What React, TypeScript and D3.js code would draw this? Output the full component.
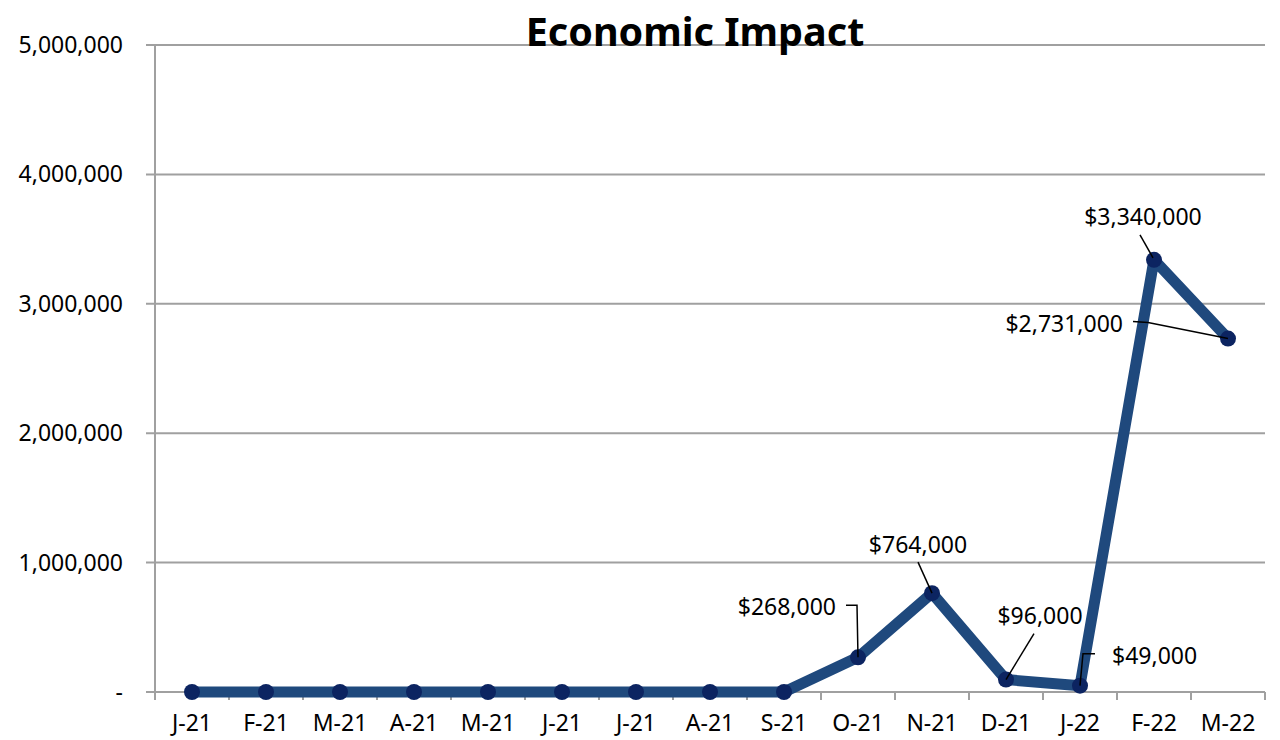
import React from "react";
import * as d3 from "d3";

const categories = ["J-21","F-21","M-21","A-21","M-21","J-21","J-21","A-21","S-21","O-21","N-21","D-21","J-22","F-22","M-22"];
const values = [0,0,0,0,0,0,0,0,0,268000,764000,96000,49000,3340000,2731000];
const yTicks = [0,1000000,2000000,3000000,4000000,5000000];
const title = "Economic Impact";

// label annotations: index, text anchor, text offset from point, leader path offsets
const annotations = [
  { i: 9, anchor: "end", tx: -22, ty: -42, leader: [[-12, -52], [-1, -52], [0, 0]] },
  { i: 10, anchor: "middle", tx: -14, ty: -40, leader: [[-14, -31], [0, 0]] },
  { i: 11, anchor: "middle", tx: 34, ty: -56, leader: [[28, -46], [0, 0]] },
  { i: 12, anchor: "start", tx: 32, ty: -22, leader: [[15, -32], [3, -32], [0, 0]] },
  { i: 13, anchor: "middle", tx: -11, ty: -35, leader: [[-14, -25], [-1, -2]] },
  { i: 14, anchor: "end", tx: -105, ty: -7, leader: [[-95, -17], [-80, -16], [0, 0]] },
];

const fmtLabel = (v: number) => "$" + d3.format(",")(v);
const fmtTick = (v: number) => (v === 0 ? "-" : d3.format(",")(v));

export default function App() {
  const W = 1280, H = 740;
  const left = 155, right = 1265, top = 45, bottom = 692;
  const x = d3.scaleBand<number>().domain(d3.range(categories.length)).range([left, right]);
  const y = d3.scaleLinear().domain([0, 5000000]).range([bottom, top]);
  const cx = (i: number) => (x(i) as number) + x.bandwidth() / 2;
  const line = d3.line<number>().x((_, i) => cx(i)).y((v) => y(v));
  const font = "'Noto Sans', sans-serif";
  const boundaries = d3.range(categories.length + 1).map((i) => left + i * x.bandwidth());

  return (
    <svg width={W} height={H} style={{ position: "absolute", left: 0, top: 0, background: "#fff" }} fontFamily={font}>
      {yTicks.map((t) => (
        <g key={t}>
          <line x1={146} x2={right} y1={y(t)} y2={y(t)} stroke="#a0a0a0" strokeWidth={2} />
          <text x={123} y={y(t) + 8} textAnchor="end" fontSize={23} fill="#000">{fmtTick(t)}</text>
        </g>
      ))}
      <line x1={left} x2={left} y1={top} y2={bottom} stroke="#a0a0a0" strokeWidth={2} />
      {boundaries.map((b, i) => (
        <line key={i} x1={b} x2={b} y1={bottom} y2={bottom + 8} stroke="#a0a0a0" strokeWidth={2} />
      ))}
      {categories.map((c, i) => (
        <text key={i} x={cx(i)} y={731} textAnchor="middle" fontSize={23} fill="#000">{c}</text>
      ))}
      <text x={695} y={46} textAnchor="middle" fontSize={39.5} fontWeight="bold" fill="#000">{title}</text>
      <path d={line(values) || ""} fill="none" stroke="#1f497d" strokeWidth={11} strokeLinejoin="round" />
      {values.map((v, i) => (
        <circle key={i} cx={cx(i)} cy={y(v)} r={8} fill="#0c2461" />
      ))}
      {annotations.map((a) => {
        const px = cx(a.i), py = y(values[a.i]);
        const d = "M" + a.leader.map(([dx, dy]) => `${px + dx},${py + dy}`).join("L");
        return (
          <g key={a.i}>
            <path d={d} fill="none" stroke="#000" strokeWidth={1.5} />
            <text x={px + a.tx} y={py + a.ty} textAnchor={a.anchor as any} fontSize={23} fill="#000">{fmtLabel(values[a.i])}</text>
          </g>
        );
      })}
    </svg>
  );
}
